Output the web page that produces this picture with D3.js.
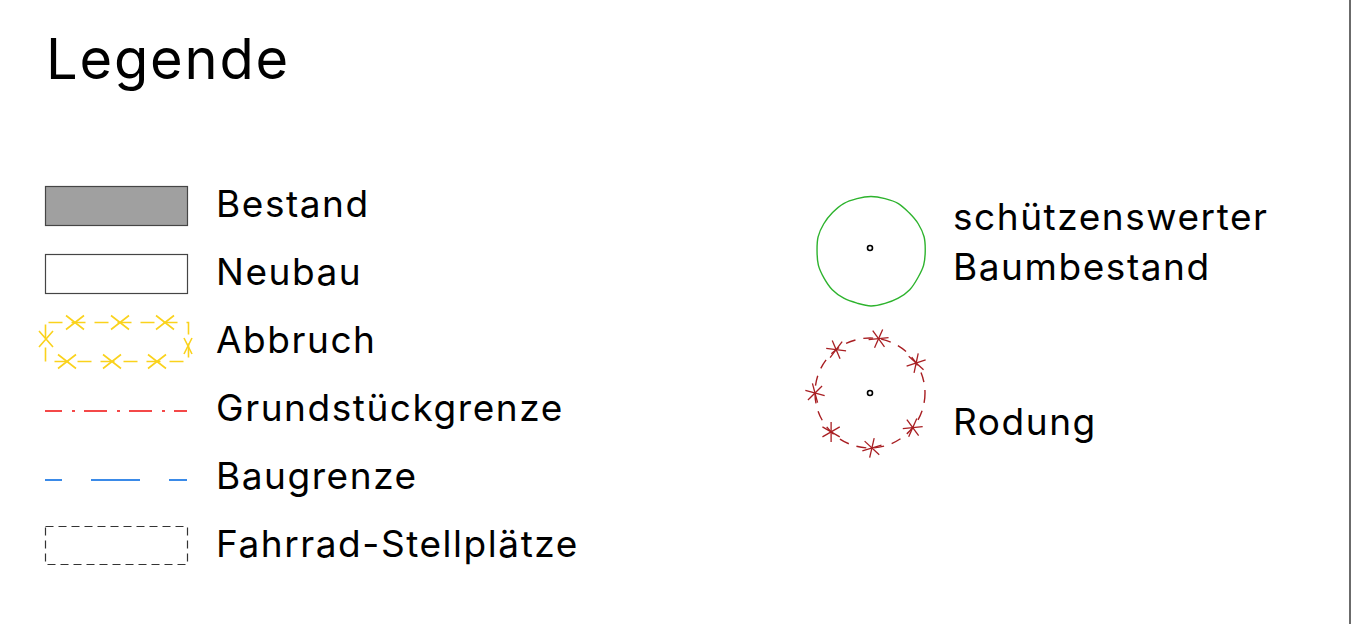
<!DOCTYPE html>
<html><head><meta charset="utf-8">
<script src="https://cdn.jsdelivr.net/npm/d3@7"></script>
<style>
html,body{margin:0;padding:0;background:#fff;}
svg{display:block;}
text{font-family:Inter,Roboto,"Noto Sans",sans-serif;fill:#000;}
</style></head>
<body>
<svg id="c" width="1367" height="624"></svg>
<script>
const title = "Legende";
const leftLabels = ["Bestand","Neubau","Abbruch","Grundstückgrenze","Baugrenze","Fahrrad-Stellplätze"];
const leftKinds = ["fillRect","emptyRect","demolish","parcel","buildLine","bikeRect"];
const rightLabels = [["schützenswerter","Baumbestand"],["Rodung"]];
const rightKinds = ["tree","clearing"];
// wobble of the tree outline (relative radius per vertex)
const treeWobble = [1.0,0.995,1.005,0.99,1.0,1.008,0.995,1.0,0.99,1.005,1.0,0.995,1.008,0.99,1.0,1.005,0.995,1.0,0.99,1.005,1.0,0.997,1.005,0.995];
// angles (deg) of cross marks on the clearing circle
const clearingMarks = [-81,-128,-33,180,135,88,39];

const svg = d3.select("#c");
const W = 1367, H = 624;

svg.append("line").attr("x1",1350).attr("x2",1350).attr("y1",0).attr("y2",H)
  .attr("stroke","#6b6b6b").attr("stroke-width",2);

svg.append("text").attr("x",46).attr("y",79).attr("font-size",56).attr("letter-spacing",1.8).text(title);

const rowY = d3.scalePoint().domain(d3.range(leftLabels.length)).range([206,546]);
const symX0 = 45, symX1 = 187, symH = 39;
const FS = 37, LS = 1.55;

const g = svg.append("g");
leftLabels.forEach((lab,i)=>{
  const cy = rowY(i);
  const kind = leftKinds[i];
  const y0 = cy - symH/2;
  if(kind==="fillRect"){
    g.append("rect").attr("x",symX0+0.5).attr("y",y0).attr("width",symX1-symX0).attr("height",symH)
      .attr("fill","#a0a0a0").attr("stroke","#454545").attr("stroke-width",1.2);
  } else if(kind==="emptyRect"){
    g.append("rect").attr("x",symX0+0.5).attr("y",y0).attr("width",symX1-symX0).attr("height",symH)
      .attr("fill","#fff").attr("stroke","#454545").attr("stroke-width",1.2);
  } else if(kind==="demolish"){
    const col="#fad21c";
    g.append("rect").attr("x",symX0+0.5).attr("y",y0).attr("width",symX1-symX0+1).attr("height",symH)
      .attr("fill","none").attr("stroke",col).attr("stroke-width",1.6).attr("stroke-dasharray","14 9").attr("stroke-dashoffset",-3);
    const marks = [[75,y0,9,7],[120,y0,9,7],[165,y0,9,7],[67,y0+symH,9,7],[112,y0+symH,9,7],[157,y0+symH,9,7],[symX0+1,cy-3,7,8],[symX1+1,cy+4,4,8]];
    marks.forEach(([mx,my,b,a])=>{
      g.append("path").attr("d",`M${mx-b},${my-a}L${mx+b},${my+a}M${mx-b},${my+a}L${mx+b},${my-a}`)
        .attr("stroke",col).attr("stroke-width",1.6).attr("fill","none");
    });
  } else if(kind==="parcel"){
    g.append("line").attr("x1",symX0).attr("x2",symX1).attr("y1",cy+1).attr("y2",cy+1)
      .attr("stroke","#f44848").attr("stroke-width",1.8).attr("stroke-dasharray","23 10 3 9").attr("stroke-dashoffset",6);
  } else if(kind==="buildLine"){
    g.append("line").attr("x1",symX0).attr("x2",symX1).attr("y1",cy+2).attr("y2",cy+2)
      .attr("stroke","#3a8ae8").attr("stroke-width",1.8).attr("stroke-dasharray","49 29").attr("stroke-dashoffset",32);
  } else if(kind==="bikeRect"){
    g.append("rect").attr("x",symX0+0.5).attr("y",y0).attr("width",symX1-symX0).attr("height",symH-1)
      .attr("fill","none").attr("stroke","#333").attr("stroke-width",1.2).attr("stroke-dasharray","8 5");
  }
  g.append("text").attr("x",216).attr("y",cy+11).attr("font-size",FS).attr("letter-spacing",LS).text(lab);
});

// right column
const treeC = [871,251], treeR = 54.5;
const line = d3.lineRadial().angle((d,i)=>i/treeWobble.length*2*Math.PI).radius(d=>d*treeR).curve(d3.curveCardinalClosed);
svg.append("path").attr("transform",`translate(${treeC})`).attr("d",line(treeWobble))
  .attr("fill","none").attr("stroke","#2db32d").attr("stroke-width",1.4);
svg.append("circle").attr("cx",870).attr("cy",248).attr("r",2.5).attr("fill","none").attr("stroke","#000").attr("stroke-width",1.6);

const clC = [870,393], clR = 55, clCol="#a81e22";
svg.append("circle").attr("cx",clC[0]).attr("cy",clC[1]).attr("r",clR).attr("fill","none")
  .attr("stroke",clCol).attr("stroke-width",1.4).attr("stroke-dasharray","10 8");
svg.append("circle").attr("cx",clC[0]).attr("cy",clC[1]).attr("r",2.5).attr("fill","none").attr("stroke","#000").attr("stroke-width",1.6);
clearingMarks.forEach(a=>{
  const rad=a*Math.PI/180;
  const mx=clC[0]+clR*Math.cos(rad), my=clC[1]+clR*Math.sin(rad);
  [0,60,120].forEach(o=>{
    const t=(a+o+15)*Math.PI/180, l=10;
    svg.append("line").attr("x1",mx-l*Math.cos(t)).attr("y1",my-l*Math.sin(t))
      .attr("x2",mx+l*Math.cos(t)).attr("y2",my+l*Math.sin(t)).attr("stroke",clCol).attr("stroke-width",1.3);
  });
});

const tt = svg.append("text").attr("x",953).attr("y",230).attr("font-size",FS).attr("letter-spacing",LS);
tt.append("tspan").attr("x",953).text(rightLabels[0][0]);
tt.append("tspan").attr("x",953).attr("dy",50).text(rightLabels[0][1]);
svg.append("text").attr("x",953).attr("y",435).attr("font-size",FS).attr("letter-spacing",LS).text(rightLabels[1][0]);
</script>
</body></html>
